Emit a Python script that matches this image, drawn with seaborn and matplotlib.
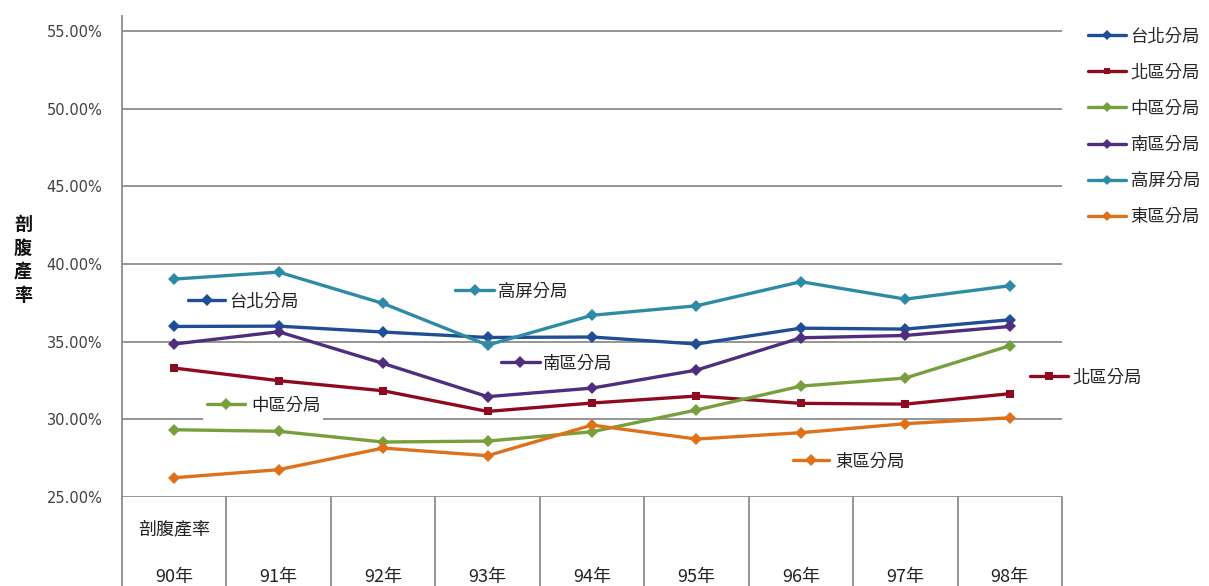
import matplotlib
matplotlib.use("Agg")
import matplotlib.pyplot as plt
from matplotlib.lines import Line2D
from matplotlib.patches import Rectangle
import seaborn as sns
import pandas as pd

years = ["90年", "91年", "92年", "93年", "94年", "95年", "96年", "97年", "98年"]
series_names = ["台北分局", "北區分局", "中區分局", "南區分局", "高屏分局", "東區分局"]
taipei = [35.98, 36.00, 35.62, 35.27, 35.30, 34.85, 35.87, 35.81, 36.41]
north = [33.30, 32.49, 31.84, 30.51, 31.05, 31.50, 31.03, 30.98, 31.65]
central = [29.33, 29.23, 28.54, 28.60, 29.20, 30.60, 32.14, 32.66, 34.74]
south = [34.85, 35.64, 33.60, 31.46, 32.01, 33.17, 35.25, 35.40, 35.98]
kaoping = [39.03, 39.48, 37.46, 34.78, 36.70, 37.31, 38.86, 37.74, 38.60]
east = [26.24, 26.76, 28.15, 27.66, 29.63, 28.73, 29.14, 29.72, 30.10]
values = [taipei, north, central, south, kaoping, east]
yticks = [25, 30, 35, 40, 45, 50, 55]
table_title = "剖腹產率"
ylabel = "剖腹產率"

colors = ["#1f4e96", "#8e0b1f", "#77a03c", "#4f2d7f", "#2e8ba6", "#e0711b"]
markers = ["D", "s", "D", "D", "D", "D"]

# inline label anchors (x start/end of the sample line, text x, y)
inline = {
    "台北分局": (0.13, 0.49, 0.53, 37.68),
    "北區分局": (8.19, 8.56, 8.60, 32.79),
    "中區分局": (0.31, 0.68, 0.74, 30.98),
    "南區分局": (3.13, 3.50, 3.53, 33.69),
    "高屏分局": (2.69, 3.06, 3.10, 38.32),
    "東區分局": (5.92, 6.27, 6.33, 27.38),
}

rows = []
for name, vals in zip(series_names, values):
    for i, v in enumerate(vals):
        rows.append({"x": i, "rate": v, "series": name})
df = pd.DataFrame(rows)

sns.set_theme(style="white")
CJK = ["Noto Sans CJK TC", "DejaVu Sans"]
plt.rcParams["font.family"] = CJK

W, H = 1209, 586
fig = plt.figure(figsize=(W / 100, H / 100), dpi=100)
ax = fig.add_axes([122 / W, (H - 497) / H, (1062 - 122) / W, (497 - 15.5) / H])

palette = dict(zip(series_names, colors))
mk = dict(zip(series_names, markers))
sns.lineplot(data=df, x="x", y="rate", hue="series", style="series",
             hue_order=series_names, style_order=series_names,
             palette=palette, markers=mk, dashes=False, linewidth=2.4,
             markersize=6, markeredgewidth=0, legend=False, ax=ax, zorder=3)

ax.set_xlim(-0.5, len(years) - 0.5)
ax.set_ylim(25, 56)
ax.set_yticks(yticks)
ax.set_yticklabels([f"{t:.2f}%" for t in yticks], family="DejaVu Sans",
                   fontsize=10.5, color="#404040")
ax.tick_params(axis="y", length=0, pad=14)
ax.set_xticks([])
ax.set_xlabel("")
ax.set_ylabel("")
ax.grid(axis="y", color="#8c8c8c", linewidth=1.3)
ax.grid(axis="x", visible=False)
for s in ["top", "right", "bottom"]:
    ax.spines[s].set_visible(False)
ax.spines["left"].set_color("#8c8c8c")
ax.spines["left"].set_linewidth(1.3)

# data table below the plot
for b in range(len(years) + 1):
    ax.plot([b - 0.5, b - 0.5], [25, 18.5], color="#8c8c8c", lw=1.3,
            clip_on=False, zorder=1)
ax.text(0, 22.94, table_title, ha="center", va="center", fontsize=13,
        color="#222222")
for i, y in enumerate(years):
    ax.text(i, 19.85, y, ha="center", va="center", fontsize=13,
            color="#222222")

# inline labels
for name, c, m in zip(series_names, colors, markers):
    x0, x1, xt, yy = inline[name]
    if name == "中區分局":
        ax.add_patch(Rectangle((0.276, 29.8), 1.15, 1.8,
                               facecolor="white", edgecolor="none", zorder=2))
    ax.plot([x0, x1], [yy, yy], color=c, lw=2.4, clip_on=False, zorder=4)
    ax.plot([(x0 + x1) / 2], [yy], marker=m, color=c, markersize=6,
            markeredgewidth=0, clip_on=False, zorder=4)
    ax.text(xt, yy - 0.1, name, ha="left", va="center", fontsize=12.5,
            color="#222222", zorder=4)

# legend on the right
handles = [Line2D([0], [0], color=c, lw=2.4, marker=m, markersize=5,
                  markeredgewidth=0) for c, m in zip(colors, markers)]
fig.legend(handles, series_names, loc="upper left",
           bbox_to_anchor=(1088 / W, 1 - 27 / H), frameon=False,
           fontsize=12.5, handlelength=2.2, handletextpad=0.25,
           labelspacing=1.05, borderpad=0, borderaxespad=0)

fig.text(23 / W, 1 - 260 / H, "\n".join(ylabel), ha="center", va="center",
         fontsize=13, fontweight="bold", linespacing=1.3, color="#111111")

fig.savefig("out.png", dpi=100)
